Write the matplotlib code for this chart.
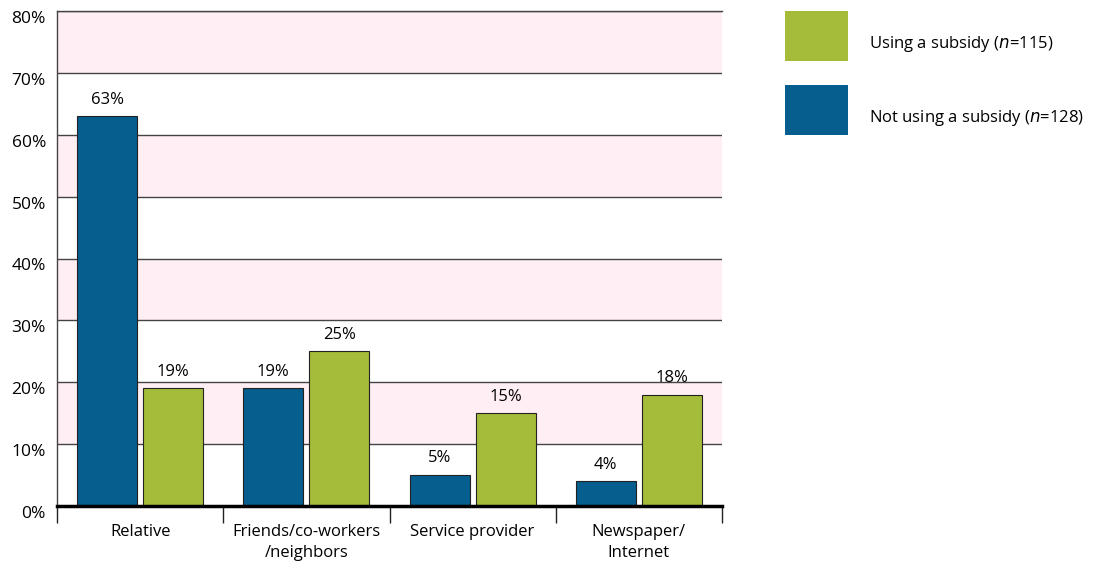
import matplotlib.pyplot as plt
from matplotlib.patches import Rectangle
import matplotlib.transforms as mtransforms
import numpy as np

plt.rcParams['font.family'] = ['Open Sans', 'DejaVu Sans']

categories = ["Relative", "Friends/co-workers\n/neighbors", "Service provider", "Newspaper/\nInternet"]
not_using = [63, 19, 5, 4]
using = [19, 25, 15, 18]
series_labels = ["Using a subsidy ($\\it{n}$=115)", "Not using a subsidy ($\\it{n}$=128)"]
yticks = [0, 10, 20, 30, 40, 50, 60, 70, 80]

blue = "#055E8E"
green = "#A4BC3A"
pink = "#FFEEF3"

fig = plt.figure(figsize=(10.99, 5.69), dpi=100)
ax = fig.add_axes([57/1099, 63/569, 665/1099, 495/569])

x = np.arange(len(categories)) + 0.5
w = 0.361
off = 0.199

# bands
for lo in range(10, 80, 20):
    ax.axhspan(lo, lo + 10, color=pink, zorder=0, lw=0)
for y in yticks[1:]:
    ax.axhline(y, color="#444444", lw=1.0, zorder=1)

ax.bar(x - off, not_using, w, color=blue, edgecolor="#222222", lw=0.8, zorder=3)
ax.bar(x + off, using, w, color=green, edgecolor="#222222", lw=0.8, zorder=3)

for xi, v in zip(x - off, not_using):
    ax.text(xi, v + 1.4, f"{v}%", ha="center", va="bottom", fontsize=12, zorder=4)
for xi, v in zip(x + off, using):
    ax.text(xi, v + 1.4, f"{v}%", ha="center", va="bottom", fontsize=12, zorder=4)

ax.set_xlim(0, 4)
ax.set_ylim(0, 80)
ax.set_yticks(yticks)
ax.set_yticklabels([f"{t}%" for t in yticks], fontsize=12.5)
ax.tick_params(axis='y', length=0, pad=8)
shift = mtransforms.ScaledTranslation(0, -6/100, fig.dpi_scale_trans)
for lbl in ax.get_yticklabels():
    lbl.set_transform(lbl.get_transform() + shift)

ax.set_xticks([0, 1, 2, 3, 4])
ax.set_xticklabels([])
ax.set_xticks(x, minor=True)
ax.set_xticklabels(categories, minor=True, fontsize=12, linespacing=1.45)
ax.tick_params(axis='x', which='major', length=12, width=1, color="#222222")
ax.tick_params(axis='x', which='minor', length=0, pad=13)

ax.spines["right"].set_visible(False)
ax.spines["top"].set_color("#444444")
ax.spines["top"].set_linewidth(1.0)
ax.spines["left"].set_color("#444444")
ax.spines["left"].set_linewidth(1.0)
ax.spines["bottom"].set_linewidth(2.5)
ax.spines["bottom"].set_color("black")
ax.spines["bottom"].set_zorder(5)

# legend
for (y0, c, lab) in [(11, green, series_labels[0]), (85, blue, series_labels[1])]:
    fig.patches.append(Rectangle((785/1099, 1 - (y0 + 50)/569), 63/1099, 50/569,
                                 transform=fig.transFigure, facecolor=c, edgecolor='none'))
    fig.text(869/1099, 1 - (y0 + 33)/569, lab, fontsize=12, va="center", ha="left")

fig.savefig("out.png", dpi=100)
